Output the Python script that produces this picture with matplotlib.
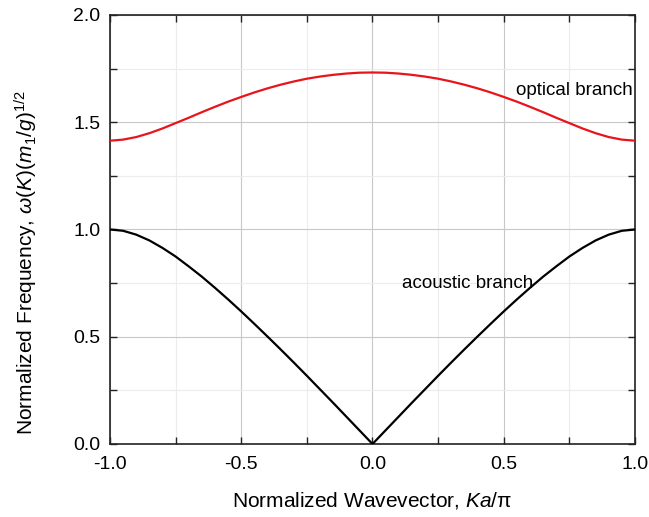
import numpy as np
import matplotlib
matplotlib.use('Agg')
import matplotlib.pyplot as plt
from matplotlib.ticker import MultipleLocator

plt.rcParams['font.family'] = ['Liberation Sans', 'DejaVu Sans']
plt.rcParams['mathtext.fontset'] = 'custom'
plt.rcParams['mathtext.rm'] = 'Liberation Sans'
plt.rcParams['mathtext.it'] = 'Liberation Sans:italic'

# Values for Ka/pi = 0.00 ... 1.00 (step 0.05); curves are symmetric
k_half = [0.00, 0.05, 0.10, 0.15, 0.20, 0.25, 0.30, 0.35, 0.40, 0.45, 0.50,
          0.55, 0.60, 0.65, 0.70, 0.75, 0.80, 0.85, 0.90, 0.95, 1.00]
optical_half = [1.732, 1.731, 1.727, 1.721, 1.713, 1.703, 1.690, 1.675, 1.658, 1.639, 1.618,
                1.596, 1.572, 1.547, 1.521, 1.496, 1.471, 1.449, 1.431, 1.419, 1.414]
acoustic_half = [0.000, 0.064, 0.128, 0.192, 0.255, 0.318, 0.380, 0.441, 0.501, 0.560, 0.618,
                 0.674, 0.728, 0.780, 0.828, 0.874, 0.914, 0.949, 0.976, 0.994, 1.000]

k = np.concatenate([-np.array(k_half[:0:-1]), k_half])
optical = np.concatenate([optical_half[:0:-1], optical_half])
acoustic = np.concatenate([acoustic_half[:0:-1], acoustic_half])

fig = plt.figure(figsize=(6.49, 5.17), dpi=100)
ax = fig.add_axes([0.1695, 0.1412, 0.8089, 0.8298])

ax.plot(k, optical, color='#e8141c', lw=1.6, zorder=3)
ax.plot(k, acoustic, color='black', lw=1.6, zorder=3)

ax.set_xlim(-1, 1)
ax.set_ylim(0, 2)
ax.xaxis.set_major_locator(MultipleLocator(0.5))
ax.xaxis.set_minor_locator(MultipleLocator(0.25))
ax.yaxis.set_major_locator(MultipleLocator(0.5))
ax.yaxis.set_minor_locator(MultipleLocator(0.25))
ax.xaxis.set_major_formatter(plt.FormatStrFormatter('%.1f'))
ax.yaxis.set_major_formatter(plt.FormatStrFormatter('%.1f'))

ax.grid(True, which='major', color='#c8c8c8', lw=0.8)
ax.grid(True, which='minor', color='#ececec', lw=0.8)
ax.set_axisbelow(True)

ax.tick_params(which='both', direction='in', top=True, right=True, length=5, width=1.0,
               labelsize=14, color='#222222')
ax.tick_params(axis='x', pad=9)
ax.tick_params(axis='y', pad=7)
for s in ax.spines.values():
    s.set_linewidth(1.2)
    s.set_color('#222222')

ax.set_xlabel('Normalized Wavevector, $Ka$/\u03c0', fontsize=15, labelpad=12)
ax.set_ylabel('Normalized Frequency, $\\omega(K)(m_1/g)^{1/2}$', fontsize=15)
ax.yaxis.set_label_coords(-0.133, 0.422)

ax.text(0.547, 1.650, 'optical branch', fontsize=13.5, va='center', ha='left')
ax.text(0.112, 0.746, 'acoustic branch', fontsize=13.5, va='center', ha='left')

fig.savefig('out.png', dpi=100)
